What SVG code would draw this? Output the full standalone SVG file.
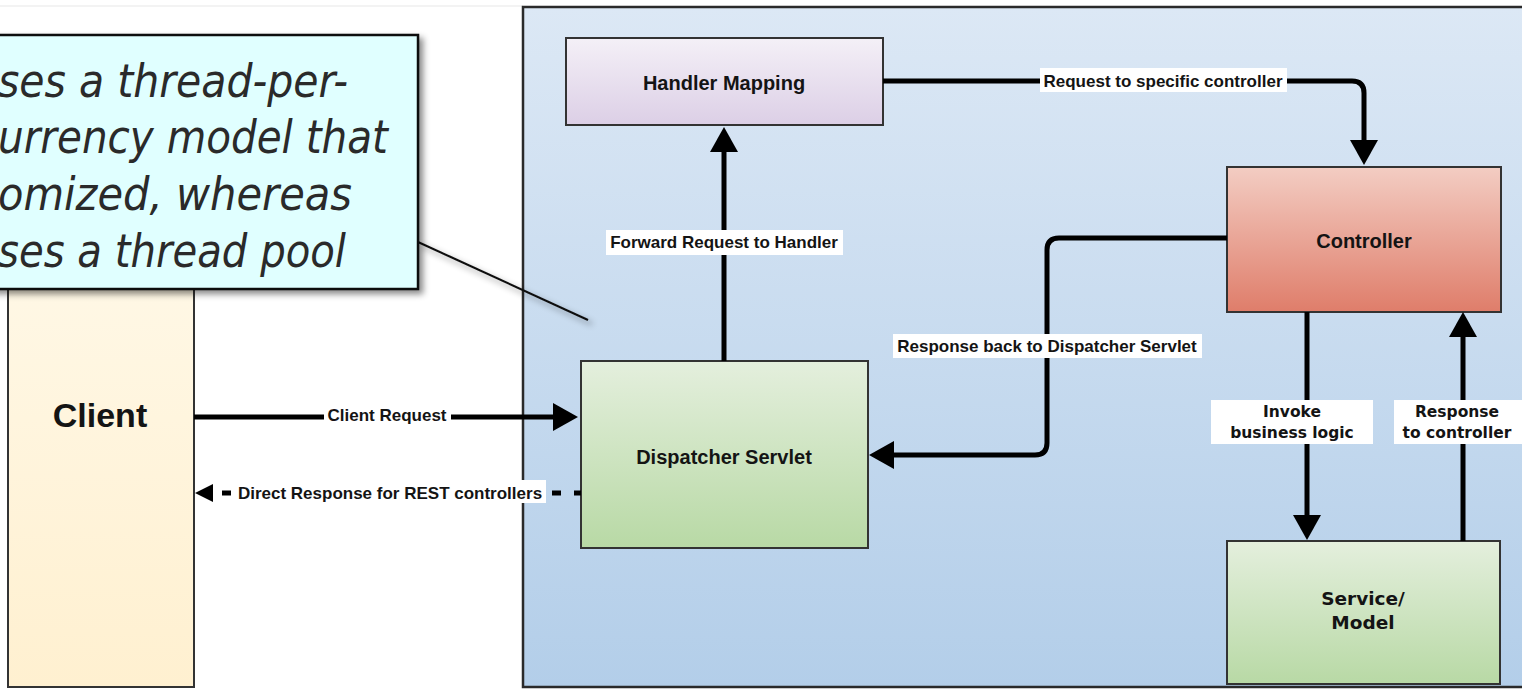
<svg xmlns="http://www.w3.org/2000/svg" width="1522" height="690" viewBox="0 0 1522 690">
<defs>
<linearGradient id="gBlue" x1="0" y1="0" x2="0" y2="1"><stop offset="0" stop-color="#dce8f5"/><stop offset="1" stop-color="#b3cee9"/></linearGradient>
<linearGradient id="gCream" x1="0" y1="0" x2="0" y2="1"><stop offset="0" stop-color="#fffaec"/><stop offset="1" stop-color="#fff0d0"/></linearGradient>
<linearGradient id="gLav" x1="0" y1="0" x2="0" y2="1"><stop offset="0" stop-color="#f4f0f7"/><stop offset="1" stop-color="#dccfe6"/></linearGradient>
<linearGradient id="gRed" x1="0" y1="0" x2="0" y2="1"><stop offset="0" stop-color="#f3cdc3"/><stop offset="1" stop-color="#df7d6a"/></linearGradient>
<linearGradient id="gGreen" x1="0" y1="0" x2="0" y2="1"><stop offset="0" stop-color="#e4efdd"/><stop offset="1" stop-color="#b8d9a5"/></linearGradient>
<filter id="shadow" x="-10%" y="-10%" width="130%" height="130%"><feDropShadow dx="4" dy="4" stdDeviation="3" flood-color="#000" flood-opacity="0.45"/></filter>
<marker id="ah" markerUnits="userSpaceOnUse" markerWidth="28" markerHeight="28" refX="2" refY="14" orient="auto"><path d="M0,0 L25,14 L0,28 Z" fill="#000"/></marker>
<marker id="ahs" markerUnits="userSpaceOnUse" markerWidth="20" markerHeight="20" refX="2" refY="9" orient="auto"><path d="M0,0 L18,9 L0,18 Z" fill="#000"/></marker>
<style>
.node{stroke:#333;stroke-width:2}
.title{font-family:"Liberation Sans",Arial,sans-serif;font-weight:bold;font-size:20px;fill:#141414;text-anchor:middle}
.vtitle{font-family:"DejaVu Sans",Verdana,sans-serif;font-weight:bold;font-size:18.5px;fill:#141414;text-anchor:middle}
.conn{fill:none;stroke:#000;stroke-width:5}
.lbl{font-family:"Liberation Sans",Arial,sans-serif;font-weight:bold;font-size:17px;fill:#141414;text-anchor:middle}
.vlbl{font-family:"DejaVu Sans",Verdana,sans-serif;font-weight:bold;font-size:15.5px;fill:#141414;text-anchor:middle}
.lblbg{fill:#fff}
.note{font-family:"DejaVu Sans",Tahoma,sans-serif;font-style:italic;font-size:46px;fill:#2a2a2a}
</style>
</defs>
<rect x="0" y="0" width="1522" height="690" fill="#fff"/>
<line x1="0" y1="6" x2="523" y2="6" stroke="#efefef" stroke-width="1.5"/>
<g id="container">
<rect x="523" y="7" width="1010" height="680" fill="url(#gBlue)" stroke="#2a2a2a" stroke-width="2.5"/>
</g>
<g id="client">
<rect class="node" x="8" y="150" width="186" height="537" fill="url(#gCream)"/>
<text x="100" y="427" class="title" style="font-size:34px">Client</text>
</g>
<g id="handler-mapping">
<rect class="node" x="566" y="38" width="317" height="87" fill="url(#gLav)"/>
<text x="724" y="90" class="title">Handler Mapping</text>
</g>
<g id="dispatcher-servlet">
<rect class="node" x="581" y="361" width="287" height="187" fill="url(#gGreen)"/>
<text x="724" y="464" class="title">Dispatcher Servlet</text>
</g>
<g id="controller">
<rect class="node" x="1227" y="167" width="274" height="145" fill="url(#gRed)"/>
<text x="1364" y="248" class="title">Controller</text>
</g>
<g id="service-model">
<rect class="node" x="1227" y="541" width="273" height="143" fill="url(#gGreen)"/>
<text x="1363" y="605" class="vtitle">Service/</text>
<text x="1363" y="629" class="vtitle">Model</text>
</g>
<g id="connectors">
<path class="conn" d="M194,417 H555" marker-end="url(#ah)"/>
<rect class="lblbg" x="324" y="404" width="127" height="23"/>
<text class="lbl" x="387" y="421">Client Request</text>
<path class="conn" d="M581,493 H211" stroke-width="3" stroke-dasharray="9 13" stroke-dashoffset="-20" marker-end="url(#ahs)"/>
<rect class="lblbg" x="235" y="480" width="311" height="23"/>
<text class="lbl" x="390" y="499">Direct Response for REST controllers</text>
<path class="conn" d="M724,361 V150" marker-end="url(#ah)"/>
<rect class="lblbg" x="606" y="230" width="237" height="25"/>
<text class="lbl" x="724" y="248">Forward Request to Handler</text>
<path class="conn" d="M883,81 H1352 Q1364,81 1364,93 V142" marker-end="url(#ah)"/>
<rect class="lblbg" x="1040" y="68" width="247" height="24"/>
<text class="lbl" x="1163" y="87">Request to specific controller</text>
<path class="conn" d="M1227,238 H1059 Q1047,238 1047,250 V443 Q1047,455 1035,455 H892" marker-end="url(#ah)"/>
<rect class="lblbg" x="893" y="334" width="309" height="24"/>
<text class="lbl" x="1047" y="352">Response back to Dispatcher Servlet</text>
<path class="conn" d="M1307,312 V517" marker-end="url(#ah)"/>
<rect class="lblbg" x="1211" y="400" width="162" height="44"/>
<text class="vlbl" x="1292" y="417">Invoke</text>
<text class="vlbl" x="1292" y="438">business logic</text>
<path class="conn" d="M1463,541 V335" marker-end="url(#ah)"/>
<rect class="lblbg" x="1394" y="400" width="128" height="44"/>
<text class="vlbl" x="1457" y="417">Response</text>
<text class="vlbl" x="1457" y="438">to controller</text>
</g>
<g id="callout">
<line x1="418" y1="242" x2="588" y2="320" stroke="#111" stroke-width="2" filter="url(#shadow)"/>
<rect x="-10" y="35" width="428" height="254" fill="#e0ffff" stroke="#111" stroke-width="2.5" filter="url(#shadow)"/>
<text class="note" x="-2" y="97" textLength="350" lengthAdjust="spacingAndGlyphs">ses a thread-per-</text>
<text class="note" x="-2" y="153" textLength="390" lengthAdjust="spacingAndGlyphs">urrency model that</text>
<text class="note" x="-2" y="210" textLength="354" lengthAdjust="spacingAndGlyphs">omized, whereas</text>
<text class="note" x="-2" y="267" textLength="348" lengthAdjust="spacingAndGlyphs">ses a thread pool</text>
</g>
</svg>
